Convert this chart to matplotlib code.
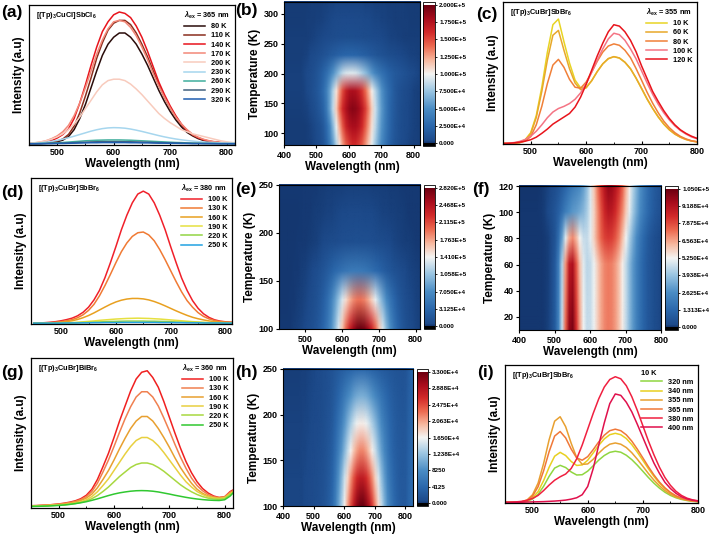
import numpy as np
import matplotlib
matplotlib.use("Agg")
import matplotlib.pyplot as plt
from matplotlib.colors import LinearSegmentedColormap, Normalize
from matplotlib.image import NonUniformImage
from matplotlib.ticker import MultipleLocator

plt.rcParams['font.family'] = ['Liberation Sans', 'DejaVu Sans']
plt.rcParams['font.weight'] = 'bold'
plt.rcParams['axes.labelweight'] = 'bold'
plt.rcParams['mathtext.fontset'] = 'custom'
plt.rcParams['mathtext.rm'] = 'Liberation Sans:bold'
plt.rcParams['mathtext.bf'] = 'Liberation Sans:bold'
plt.rcParams['mathtext.it'] = 'Liberation Sans:italic:bold'
plt.rcParams['mathtext.default'] = 'rm'

# ---------------- data (intensity in % of axis height) ----------------
wl_long = np.arange(450, 821, 10)   # panels a, d, g
wl_short = np.arange(450, 801, 10)  # panels c, i

# (a) [(Tp)3CuCl]SbCl6, 365 nm excitation
temps_a = [80, 110, 140, 170, 200, 230, 260, 290, 320]
a_80 = [0.8, 0.9, 1.0, 1.2, 1.6, 2.3, 3.5, 6, 11, 19, 29, 41, 53, 64, 72, 77, 80, 80, 77, 72,
        65, 57, 48, 39, 31, 24, 18, 13, 9, 6.5, 4.5, 3.2, 2.4, 1.8, 1.5, 1.3, 1.2, 1.1]
a_110 = [0.8, 0.9, 1.1, 1.4, 1.9, 2.8, 4.3, 7.5, 13.5, 23, 35, 48, 62, 73, 82, 87, 89, 89, 86, 80,
         72, 63, 53, 43, 34, 26.5, 20, 14.5, 10, 7, 5, 3.5, 2.6, 2, 1.6, 1.4, 1.2, 1.1]
a_140 = [1.0, 1.2, 1.5, 2.1, 3.2, 5, 7.5, 11.5, 19, 30, 43, 57, 70, 81, 88, 93, 95, 94, 91, 85,
         77, 67, 56, 45, 36, 28, 21, 15, 10.5, 7.5, 5.2, 3.7, 2.7, 2.1, 1.7, 1.4, 1.2, 1.1]
a_170 = [1.2, 1.5, 2, 3, 4.5, 6.5, 9.5, 14, 21, 30, 41, 53, 65, 75, 83, 88, 89, 88, 84, 78,
         70, 61, 51, 42, 34, 26.5, 20, 15, 11, 7.5, 5.5, 4, 3, 2.3, 1.8, 1.5, 1.3, 1.2]
a_200 = [1.3, 1.6, 2.2, 3, 4.2, 5.8, 8, 11, 15, 20, 26, 32, 38, 43, 46, 47, 47, 46, 43.5, 40,
         36, 31.5, 27, 22.5, 19, 16, 13.5, 11, 9.5, 8, 7, 6, 5, 4, 3, 2.3, 1.8, 1.5]
a_230 = [1.0, 1.2, 1.5, 2, 2.6, 3.3, 4.2, 5.2, 6.3, 7.5, 8.7, 9.9, 10.9, 11.7, 12.2, 12.4, 12.3, 12, 11.4, 10.6,
         9.7, 8.7, 7.7, 6.7, 5.8, 5, 4.3, 3.7, 3.2, 2.8, 2.4, 2.1, 1.9, 1.7, 1.5, 1.4, 1.3, 1.2]
a_260 = [1.0, 1.0, 1.1, 1.2, 1.4, 1.6, 1.8, 2.1, 2.4, 2.7, 3.0, 3.2, 3.4, 3.5, 3.6, 3.6, 3.6, 3.5, 3.4, 3.2,
         3.0, 2.8, 2.6, 2.4, 2.2, 2.0, 1.8, 1.7, 1.5, 1.4, 1.3, 1.2, 1.1, 1.1, 1.0, 1.0, 1.0, 1.0]
a_290 = [0.9, 0.9, 1.0, 1.0, 1.1, 1.2, 1.3, 1.5, 1.7, 1.9, 2.0, 2.2, 2.3, 2.4, 2.4, 2.4, 2.4, 2.3, 2.3, 2.2,
         2.1, 2.0, 1.8, 1.7, 1.6, 1.5, 1.4, 1.3, 1.2, 1.1, 1.1, 1.0, 1.0, 1.0, 0.9, 0.9, 0.9, 0.9]
a_320 = [0.9, 0.9, 0.9, 1.0, 1.0, 1.1, 1.1, 1.2, 1.3, 1.4, 1.5, 1.6, 1.6, 1.7, 1.7, 1.7, 1.7, 1.7, 1.6, 1.6,
         1.5, 1.5, 1.4, 1.3, 1.3, 1.2, 1.2, 1.1, 1.1, 1.0, 1.0, 1.0, 1.0, 0.9, 0.9, 0.9, 0.9, 0.9]
colors_a = ['#2a0c0a', '#8a2e1e', '#e8141c', '#f38878', '#f8cbbd', '#a6d6ee', '#3fae9c', '#41607e', '#1f5eb0']

# (c) [(Tp)3CuBr]SbBr6, 355 nm excitation
temps_c = [10, 60, 80, 100, 120]
c_10 = [0.5, 0.5, 0.6, 1.1, 3.0, 8.0, 20, 40, 64.5, 84, 88, 72, 57, 45, 39.5, 40, 44.5, 51,
        56.5, 60, 61.5, 60.5, 57.5, 53, 46.5, 39, 31.5, 25, 19, 14, 10, 7, 4.8, 3.2, 2.1, 1.5]
c_60 = [0.5, 0.5, 0.6, 1.0, 2.7, 7.3, 18.6, 37, 59, 76.6, 80, 66, 53, 43, 38.3, 39.5, 44.6, 51,
        56.4, 60.2, 61.5, 60.6, 57.6, 53, 46.4, 39.2, 31.8, 25.1, 19.2, 14.1, 10.1, 7, 4.8, 3.2, 2.1, 1.5]
c_80 = [0.5, 0.5, 0.6, 0.9, 2.0, 5.2, 13.5, 26.5, 42.5, 55.6, 59.6, 54, 45.5, 40, 39.3, 43.6, 50.7, 58.2,
        64.7, 69, 70.5, 69.5, 66, 60.8, 53.2, 44.9, 36.4, 28.7, 22, 16.1, 11.5, 8, 5.4, 3.6, 2.3, 1.6]
c_100 = [0.4, 0.6, 1, 1.8, 3.2, 5.5, 9, 13.5, 18.5, 22.5, 25, 26.5, 28.5, 31.5, 36, 42.5, 50.5, 59,
         67, 74, 78, 77, 73, 67, 60, 51.5, 43, 35, 28, 22, 17, 12.8, 9.5, 7, 5, 3.7]
c_120 = [0.3, 0.5, 0.8, 1.3, 2.0, 3.0, 4.8, 7.5, 10.5, 14, 16.5, 19, 21.5, 26, 33, 42, 52, 62,
         71, 79, 84, 83, 79, 73, 65, 55, 46, 37, 30, 23.5, 18, 13.5, 10, 7.5, 5.5, 4]
colors_c = ['#e8d424', '#e8a82a', '#f08038', '#f47484', '#e8141c']

# (d) [(Tp)3CuBr]SbBr6, 380 nm excitation
temps_d = [100, 130, 160, 190, 220, 250]
d_100 = [0.6, 0.7, 0.9, 1.2, 1.6, 2.2, 3.0, 4.0, 5.6, 8.0, 11.5, 16.5, 23, 31.7, 42, 53, 64.5, 74.5, 83, 89,
         91, 89, 83, 74.5, 64.5, 53, 42, 31.5, 23, 16, 10.8, 7, 4.5, 2.9, 2, 1.5, 1.2, 1.1]
d_130 = [0.5, 0.6, 0.7, 0.9, 1.2, 1.6, 2.2, 3.0, 4.3, 6.3, 9.3, 13.5, 19.3, 26.3, 34, 42, 49.5, 55.5, 60, 62.5,
         63, 61, 57, 51, 44, 36.5, 29, 22, 16, 11.5, 7.8, 5.2, 3.5, 2.4, 1.7, 1.3, 1.1, 1.0]
d_160 = [0.5, 0.5, 0.6, 0.7, 0.9, 1.2, 1.6, 2.2, 3.1, 4.3, 5.8, 7.6, 9.6, 11.6, 13.5, 15.1, 16.3, 17.1, 17.5, 17.5,
         17.2, 16.5, 15.4, 14, 12.4, 10.7, 9, 7.4, 5.9, 4.6, 3.6, 2.8, 2.1, 1.6, 1.3, 1.1, 1.0, 0.9]
d_190 = [0.5, 0.5, 0.5, 0.6, 0.6, 0.7, 0.8, 1.0, 1.2, 1.5, 1.8, 2.1, 2.5, 2.8, 3.1, 3.4, 3.6, 3.8, 3.9, 4.0,
         3.9, 3.8, 3.6, 3.4, 3.1, 2.8, 2.5, 2.2, 1.9, 1.6, 1.4, 1.2, 1.0, 0.9, 0.8, 0.7, 0.7, 0.7]
d_220 = [0.5, 0.5, 0.5, 0.5, 0.6, 0.6, 0.7, 0.8, 0.9, 1.0, 1.1, 1.3, 1.4, 1.6, 1.7, 1.8, 1.9, 2.0, 2.0, 2.0,
         2.0, 1.9, 1.9, 1.8, 1.7, 1.6, 1.4, 1.3, 1.2, 1.1, 1.0, 0.9, 0.8, 0.7, 0.7, 0.6, 0.6, 0.6]
d_250 = [0.6, 0.6, 0.6, 0.6, 0.6, 0.6, 0.7, 0.7, 0.7, 0.8, 0.8, 0.9, 0.9, 1.0, 1.0, 1.0, 1.1, 1.1, 1.1, 1.1,
         1.1, 1.1, 1.1, 1.0, 1.0, 1.0, 0.9, 0.9, 0.8, 0.8, 0.8, 0.7, 0.7, 0.7, 0.7, 0.6, 0.6, 0.6]
colors_d = ['#f0202a', '#f07a34', '#e8a020', '#e6e040', '#92d444', '#22a2e2']

# (g) [(Tp)3CuBr]BiBr6, 360 nm excitation
temps_g = [100, 130, 160, 190, 220, 250]
g_100 = [1.5, 1.6, 1.8, 2.0, 2.3, 2.7, 3.2, 3.9, 4.8, 6.2, 8.5, 12.5, 19, 27.5, 36.5, 47, 58, 68, 78, 86,
         90.5, 91.5, 87, 80.5, 71, 60.5, 50, 40, 31, 23.5, 17.5, 13, 10, 8, 7, 7.5, 11, 13]
g_130 = [1.5, 1.6, 1.8, 2.0, 2.3, 2.6, 3.0, 3.6, 4.4, 5.6, 7.6, 11, 16.5, 24, 32, 41, 50.5, 59.5, 67.5, 74,
         77.5, 77.5, 74, 68, 60, 51.5, 42.5, 34, 26.5, 20, 15, 11.5, 9, 7.5, 7, 7.5, 10.5, 12.5]
g_160 = [1.4, 1.5, 1.6, 1.8, 2.0, 2.3, 2.7, 3.2, 3.9, 5, 6.6, 9.3, 13.5, 19, 25, 32, 39.5, 46.5, 53, 58,
         61, 61, 58, 53, 47, 40.5, 33.5, 27, 21.5, 16.5, 12.5, 9.8, 8, 7, 6.6, 7, 10, 12]
g_190 = [1.3, 1.4, 1.5, 1.6, 1.8, 2.0, 2.3, 2.7, 3.3, 4.2, 5.5, 7.6, 10.8, 15, 19.5, 25, 30.5, 36, 41, 45,
         47, 47, 45, 41.5, 37, 32, 27, 22, 17.5, 14, 11, 9, 7.5, 6.7, 6.3, 6.8, 9.5, 11.5]
g_220 = [1.2, 1.3, 1.4, 1.5, 1.7, 1.9, 2.1, 2.5, 3.0, 3.7, 4.7, 6.2, 8.3, 11, 14, 17.5, 21, 24, 27, 29,
         30, 30, 29, 27, 24.5, 21.5, 18.5, 15.5, 13, 10.8, 9, 7.6, 6.6, 6, 5.8, 6.3, 9, 11]
g_250 = [1.0, 1.1, 1.2, 1.3, 1.5, 1.7, 2.0, 2.4, 2.9, 3.5, 4.2, 5.1, 6.1, 7.2, 8.3, 9.3, 10.1, 10.7, 11.2, 11.5,
         11.6, 11.5, 11.2, 10.7, 10, 9.3, 8.5, 7.8, 7.1, 6.5, 6, 5.6, 5.3, 5.1, 5.0, 5.5, 8, 12]
colors_g = ['#f02020', '#f08050', '#e8a030', '#e8d040', '#a8d840', '#30c830']

# (i) [(Tp)3CuBr]SbBr6 at 10 K, different excitation wavelengths
exc_i = [320, 340, 355, 365, 380, 400]
i_320 = [0.5, 0.5, 0.6, 0.7, 1.2, 2.9, 6.3, 12.1, 19.3, 25.3, 27.3, 25.7, 22.5, 20.3, 20.5, 23.1, 27, 31.1,
         34.4, 36.7, 37.5, 36.8, 34.6, 31.4, 27.4, 23, 18.5, 14.4, 10.8, 7.8, 5.5, 3.8, 2.6, 1.8, 1.2, 0.9]
i_340 = [0.5, 0.5, 0.6, 0.7, 1.4, 3.7, 8.3, 16.2, 25.9, 33.9, 36.7, 34.4, 30.1, 27.2, 27.6, 31, 36.3, 41.8,
         46.4, 49.5, 50.5, 49.5, 46.7, 42.3, 36.8, 30.9, 24.9, 19.3, 14.4, 10.4, 7.3, 5, 3.3, 2.2, 1.5, 1.1]
i_355 = [0.5, 0.5, 0.6, 0.9, 2.2, 6, 14.4, 28.6, 45.8, 59.3, 62.5, 55.3, 43.3, 32.9, 28, 28.3, 31.7, 36.1,
         39.9, 42.6, 43.5, 42.6, 40.2, 36.4, 31.7, 26.6, 21.4, 16.6, 12.5, 9, 6.3, 4.3, 2.9, 2, 1.4, 1]
i_365 = [0.5, 0.5, 0.6, 0.8, 1.8, 5, 11.8, 23.3, 37.2, 48.5, 51.8, 47.2, 39.1, 32.7, 31, 33.6, 38.7, 44.3,
         49.1, 52.4, 53.5, 52.4, 49.4, 44.8, 39, 32.7, 26.3, 20.4, 15.2, 11, 7.7, 5.2, 3.5, 2.3, 1.6, 1.1]
i_380 = [0.5, 0.6, 0.8, 1.2, 2.0, 3.3, 5.5, 9, 13, 16.5, 19, 21, 25, 32, 42, 53.5, 65, 75.5,
         84, 89.5, 91.5, 90, 85, 77, 67, 56, 45, 35, 26, 18.5, 12.8, 8.5, 5.5, 3.5, 2.3, 1.6]
i_400 = [0.4, 0.4, 0.5, 0.6, 0.7, 0.8, 0.9, 1.0, 1.2, 1.4, 1.7, 2.1, 2.8, 3.8, 6, 12, 25, 42,
         58, 72, 79, 78, 73, 66, 57, 47.5, 38, 29, 21.5, 15, 10.5, 7, 4.5, 3, 2, 1.4]
colors_i = ['#90d640', '#e8d020', '#e8a030', '#f07838', '#f02040', '#e0104c']

# colorbar tick labels as printed
cb_b = ['0.000', '2.500E+4', '5.000E+4', '7.500E+4', '1.000E+5', '1.250E+5', '1.500E+5', '1.750E+5', '2.000E+5']
cb_e = ['0.000', '3.125E+4', '7.050E+4', '1.058E+5', '1.410E+5', '1.763E+5', '2.115E+5', '2.468E+5', '2.820E+5']
cb_f = ['0.000', '1.313E+4', '2.625E+4', '3.938E+4', '5.250E+4', '6.563E+4', '7.875E+4', '9.188E+4', '1.050E+5']
cb_h = ['0.000', '4125', '8250', '1.238E+4', '1.650E+4', '2.063E+4', '2.475E+4', '2.888E+4', '3.300E+4']

# ---------------- figure ----------------
W, H = 709, 539
fig = plt.figure(figsize=(W / 100, H / 100), dpi=100)


def rect(x0, y0, x1, y1):
    return [x0 / W, 1 - y1 / H, (x1 - x0) / W, (y1 - y0) / H]


cmap = LinearSegmentedColormap.from_list('origin_rb', [
    (0.00, '#13336a'), (0.02, '#1d4a8a'), (0.12, '#2a66aa'), (0.25, '#4a8cc4'),
    (0.38, '#9cc6e2'), (0.50, '#f4f4f2'), (0.60, '#f7b89e'), (0.70, '#ec6a50'),
    (0.80, '#d22a2a'), (0.90, '#a80c1c'), (1.00, '#6a0010')], N=512)
cmap.set_under('black')
cmap.set_over('white')


def line_panel(r, wl, curves, labels, colors, title, sample, xlim, tag, tagpos):
    ax = fig.add_axes(r)
    for y, lab, c in zip(curves, labels, colors):
        ax.plot(wl, y, color=c, lw=1.1, label=lab)
    ax.set_xlim(*xlim)
    ax.set_ylim(0, 100)
    ax.set_yticks([])
    ax.set_xticks([500, 600, 700, 800])
    ax.xaxis.set_minor_locator(MultipleLocator(50))
    ax.tick_params(axis='x', direction='in', labelsize=6.5, length=2.5, width=0.8, pad=2)
    ax.tick_params(axis='x', which='minor', direction='in', length=1.5, width=0.6)
    for s in ax.spines.values():
        s.set_linewidth(0.9)
    ax.set_xlabel('Wavelength (nm)', fontsize=8.5, labelpad=1)
    ax.set_ylabel('Intensity (a.u)', fontsize=8.5, labelpad=3)
    ax.legend(title=title, loc='upper right', frameon=False, fontsize=5.3, title_fontsize=5.3,
              handlelength=2.8, handletextpad=0.8, labelspacing=0.28, borderaxespad=0.25,
              alignment='left')
    ax.text(0.035, 0.965, sample, transform=ax.transAxes, fontsize=5.3, va='top')
    fig.text(tagpos[0] / W, 1 - tagpos[1] / H, tag, fontsize=12.5, va='center')
    return ax


def map_panel(r, cr, wl, temps, curves, scale, vmax, cblabels, xlim, ylim, yticks, tag, tagpos):
    ax = fig.add_axes(r)
    z = np.array(curves) * scale
    norm = Normalize(vmin=0, vmax=vmax)
    ax.set_facecolor(cmap(norm(z.min())))
    im = NonUniformImage(ax, interpolation='bilinear', cmap=cmap, norm=norm,
                         extent=(wl[0], wl[-1], temps[0], temps[-1]))
    im.set_data(np.asarray(wl, float), np.asarray(temps, float), z)
    ax.add_image(im)
    ax.set_xlim(*xlim)
    ax.set_ylim(*ylim)
    ax.set_xticks([t for t in [400, 500, 600, 700, 800] if xlim[0] <= t <= xlim[1]])
    ax.set_yticks(yticks)
    ax.tick_params(direction='out', labelsize=6.5, length=2.5, width=0.8, pad=1.5)
    ax.set_xlabel('Wavelength (nm)', fontsize=8.5, labelpad=1)
    ax.set_ylabel('Temperature (K)', fontsize=8.5, labelpad=2)
    cax = fig.add_axes(cr)
    cb = fig.colorbar(im, cax=cax, extend='both', extendrect=True, extendfrac=0.02)
    cb.set_ticks(np.linspace(0, vmax, 9))
    cb.set_ticklabels(cblabels)
    cb.ax.tick_params(labelsize=4.5, length=1.5, width=0.6, pad=1.5)
    cb.outline.set_linewidth(0.6)
    fig.text(tagpos[0] / W, 1 - tagpos[1] / H, tag, fontsize=12.5, va='center')
    return ax


# (a)
line_panel(rect(29, 5, 235, 145), wl_long,
           [a_80, a_110, a_140, a_170, a_200, a_230, a_260, a_290, a_320],
           [f'{t} K' for t in temps_a], colors_a,
           r'$\mathit{\lambda}_{ex}$ = 365 nm', r'[(Tp)$_3$CuCl]SbCl$_6$', (450, 815), '(a)', (1, 13))
# (b)
map_panel(rect(284, 2, 420, 145), rect(423, 2, 435, 146), wl_long, temps_a,
          [a_80, a_110, a_140, a_170, a_200, a_230, a_260, a_290, a_320], 2000, 2.0e5, cb_b,
          (400, 820), (80, 320), [100, 150, 200, 250, 300], '(b)', (235, 11))
# (c)
line_panel(rect(503, 2, 697, 144), wl_short, [c_10, c_60, c_80, c_100, c_120],
           [f'{t} K' for t in temps_c], colors_c,
           r'$\mathit{\lambda}_{ex}$ = 355 nm', r'[(Tp)$_3$CuBr]SbBr$_6$', (450, 800), '(c)', (476, 15))
# (d)
line_panel(rect(31, 178, 232, 324), wl_long, [d_100, d_130, d_160, d_190, d_220, d_250],
           [f'{t} K' for t in temps_d], colors_d,
           r'$\mathit{\lambda}_{ex}$ = 380 nm', r'[(Tp)$_3$CuBr]SbBr$_6$', (445, 812), '(d)', (1, 192))
# (e)
map_panel(rect(279, 185, 420, 329), rect(424, 185, 435, 329), wl_long, temps_d,
          [d_100, d_130, d_160, d_190, d_220, d_250], 3090, 2.82e5, cb_e,
          (430, 812), (100, 250), [100, 150, 200, 250], '(e)', (235, 190))
# (f)
map_panel(rect(519, 186, 661, 330), rect(665, 186, 678, 330), wl_short, temps_c,
          [c_10, c_60, c_80, c_100, c_120], 1160, 1.05e5, cb_f,
          (400, 800), (10, 120), [20, 40, 60, 80, 100, 120], '(f)', (472, 190))
# (g)
line_panel(rect(31, 358, 233, 508), wl_long, [g_100, g_130, g_160, g_190, g_220, g_250],
           [f'{t} K' for t in temps_g], colors_g,
           r'$\mathit{\lambda}_{ex}$ = 360 nm', r'[(Tp)$_3$CuBr]BiBr$_6$', (450, 815), '(g)', (1, 373))
# (h)
map_panel(rect(283, 369, 413, 506), rect(417, 369, 428, 506), wl_long, temps_g,
          [g_100, g_130, g_160, g_190, g_220, g_250], 360, 3.3e4, cb_h,
          (400, 825), (100, 250), [100, 150, 200, 250], '(h)', (235, 372))
# (i)
line_panel(rect(505, 365, 698, 503), wl_short, [i_320, i_340, i_355, i_365, i_380, i_400],
           [f'{e} nm' for e in exc_i], colors_i,
           '10 K', r'[(Tp)$_3$CuBr]SbBr$_6$', (450, 800), '(i)', (477, 372))

fig.savefig('out.png', dpi=100)
